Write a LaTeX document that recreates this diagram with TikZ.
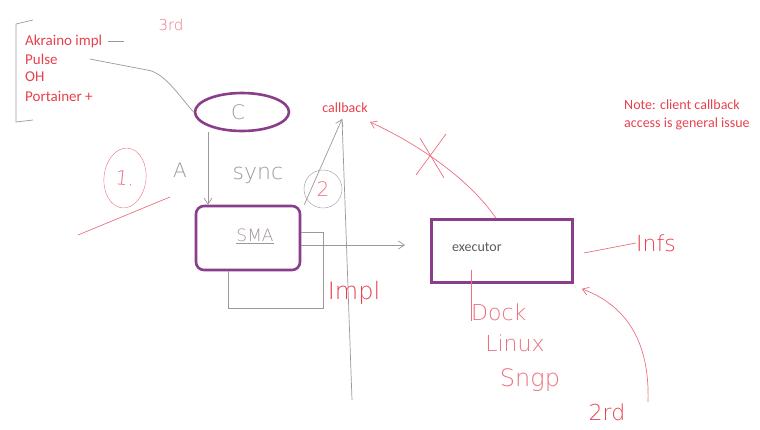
\documentclass[tikz,border=0pt]{standalone}
\usepackage{fontspec}
\setmainfont{Carlito}
\newfontfamily\handfont{DejaVu Sans ExtraLight}
\usetikzlibrary{positioning,arrows.meta,shapes.geometric}
\definecolor{inkred}{RGB}{232,64,76}
\definecolor{inkpurple}{RGB}{138,62,138}
\definecolor{inkgrey}{RGB}{160,150,158}
\definecolor{inkpink}{RGB}{236,112,128}

\begin{document}
\begin{tikzpicture}[x=1pt,y=-1pt,
  printed/.style={text=inkred, font=\fontsize{14}{16}\selectfont, inner sep=0pt, anchor=west},
  hand/.style={text=inkpink, font=\handfont\fontsize{#1}{#1}\selectfont, inner sep=0pt},
  hand/.default=18,
  thickbox/.style={draw=inkpurple, line width=2.6pt, fill=white},
  greypen/.style={draw=inkgrey, line width=0.7pt},
  redpen/.style={draw=inkpink, line width=0.7pt},
  barb/.style={-{Straight Barb[length=6pt,width=8pt]}}]
  \useasboundingbox (0,0) rectangle (760,429);

  % list of third party pieces
  \draw[greypen] (33,20) -- (16,24) -- (16,122) -- (33,120);
  \node[printed, font=\fontsize{15}{17}\selectfont] (akraino) at (25,41) {Akraino impl};
  \node[printed, font=\fontsize{15}{17}\selectfont] (pulse) at (25,59) {Pulse};
  \node[printed, font=\fontsize{15}{17}\selectfont] (oh) at (25,77) {OH};
  \node[printed, font=\fontsize{15}{17}\selectfont] (portainer) at (25,96) {Portainer +};
  \node[hand=15] (thirdtop) at (171,25) {3rd};
  \draw[greypen] ([xshift=6pt]akraino.east) -- ([xshift=22pt]akraino.east);

  % client
  \node[ellipse, thickbox, minimum width=94, minimum height=38] (client) at (242,112) {};
  \node[hand=20, text=inkgrey] (clientlabel) at (238,112) {C};
  \draw[greypen] ([xshift=32pt]pulse.east) -- (147,70) .. controls (165,72) and (182,100) .. (client.west);

  % sync call into SMA
  \node[thickbox, rounded corners=8pt, minimum width=104, minimum height=64] (sma) at (248,238) {};
  \node[hand=17, text=inkgrey] (smalabel) at (255,236) {\underline{SMA}};
  \draw[greypen, barb] ([xshift=-34pt]client.south) -- ([xshift=-34pt]client.south |- sma.north);
  \node[hand=22, text=inkgrey] (sync) at (258,175) {sync};
  \node[hand=20, text=inkgrey] (alabel) at (180,170) {A};

  % step one
  \node[hand=20, draw=inkpink, ellipse, rotate=-6, minimum width=42, minimum height=60] (one) at (125,178) {1.};
  \coordinate (underA) at (78,235);
  \coordinate (underB) at (170,197);
  \draw[redpen] (underA) -- (underB);

  % impl loop
  \draw[greypen] ([yshift=6pt]sma.east) -| (323,308) -| ([xshift=-20pt]sma.south);
  \node[hand=24, text=inkred] (impl) at (354,293) {Impl};

  % callback
  \node[printed, anchor=center] (callback) at (345,108) {callback};
  \coordinate (cbtip) at (342,119);
  \coordinate (floor) at (352,400);
  \draw[greypen] (cbtip) -- (floor);
  \draw[greypen, barb] ([xshift=3pt]sma.north east) -- (cbtip);
  \node[hand=20, draw=inkgrey, circle, minimum size=38] (two) at (323,189) {2};

  % executor
  \node[thickbox, minimum width=141, minimum height=63] (exec) at (502,251) {};
  \node[printed, text=inkgrey!60!black, anchor=west] (execlabel) at (452,247) {executor};
  \coordinate (toexec) at (405,245);
  \draw[greypen, barb] ([yshift=-7pt]sma.east) -- (toexec);

  % callback from executor is blocked
  \coordinate (cbback) at (370,122);
  \draw[redpen, barb] ([xshift=-6pt]exec.north) .. controls (470,180) and (420,145) .. (cbback);
  \coordinate (crossA) at (416,175);
  \coordinate (crossB) at (446,134);
  \coordinate (crossC) at (420,138);
  \coordinate (crossD) at (444,178);
  \draw[redpen] (crossA) -- (crossB);
  \draw[redpen] (crossC) -- (crossD);

  \node[printed] (note) at (624,105) {Note: client callback};
  \node[printed] (note2) at (624,124) {access is general issue};

  % infra
  \node[hand=22, text=inkred] (infs) at (656,243) {Infs};
  \draw[redpen] ([xshift=10pt,yshift=-2pt]exec.east) -- (infs.west);

  \node[hand=22, anchor=west] (dock) at (471,312) {Dock};
  \node[hand=22] (linux) at (515,343) {Linux};
  \node[hand=24] (sngp) at (530,380) {Sngp};
  \draw[redpen] ([yshift=14pt]exec.south -| dock.west) -- (dock.south west);

  \node[hand=22, text=inkred] (secondrd) at (607,412) {2rd};
  \coordinate (bottomend) at (648,402);
  \draw[redpen, barb] (bottomend) .. controls (650,340) and (625,305) .. ([xshift=8pt,yshift=-5pt]exec.south east);
\end{tikzpicture}
\end{document}
